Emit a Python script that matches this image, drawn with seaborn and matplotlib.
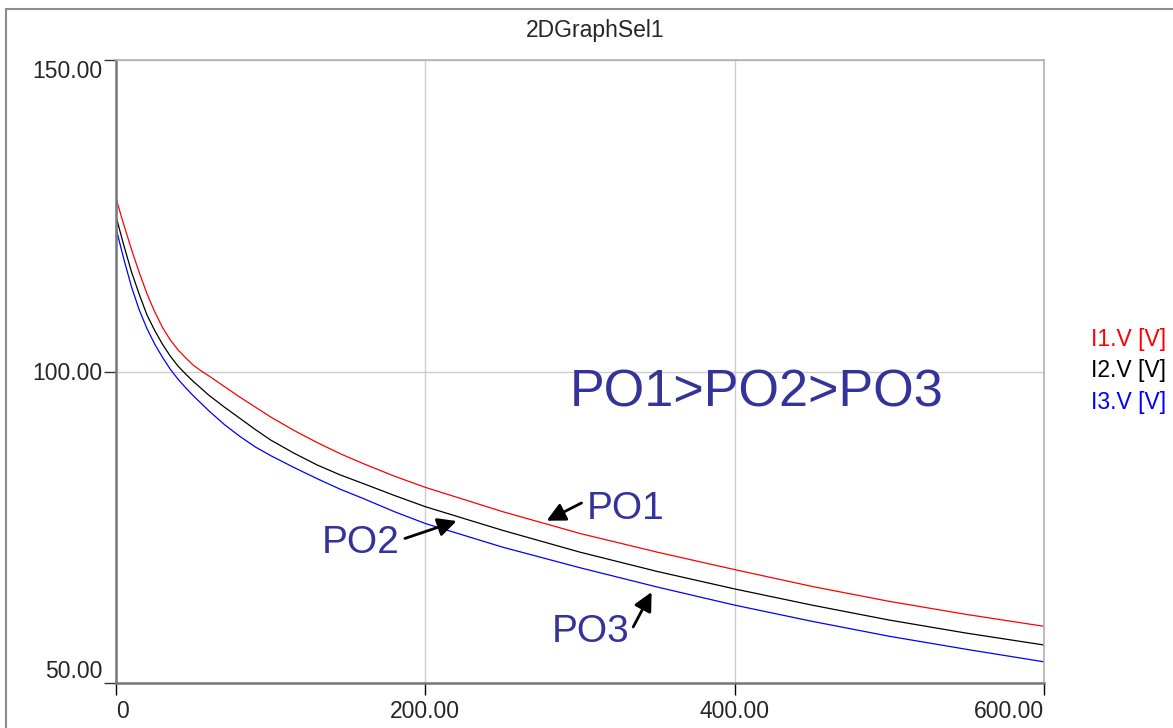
import matplotlib
matplotlib.use("Agg")
import matplotlib.pyplot as plt
import numpy as np
import pandas as pd
import seaborn as sns
from matplotlib.patches import Rectangle

# ---- data ----
x_vals = [0, 5, 10, 15, 20, 25, 30, 35, 40, 45, 50, 55, 60, 70, 80, 90, 100,
          115, 130, 145, 160, 180, 200, 250, 300, 350, 400, 450, 500, 550, 600]
i1_vals = [127.8, 123.6, 119.6, 115.9, 112.5, 109.6, 107.1, 105.1, 103.5, 102.2,
           101.0, 100.1, 99.3, 97.6, 95.9, 94.3, 92.7,
           90.55, 88.6, 86.8, 85.2, 83.2, 81.4, 77.5, 74.0, 71.0, 68.2, 65.5,
           63.1, 61.0, 59.1]
i2_vals = [124.9, 120.3, 116.0, 112.4, 109.1, 106.6, 104.4, 102.5, 100.9, 99.6,
           98.4, 97.3, 96.2, 94.3, 92.5, 90.7, 89.0,
           86.9, 85.0, 83.4, 82.0, 80.1, 78.3, 74.5, 71.0, 67.9, 65.1, 62.5,
           60.1, 58.0, 56.1]
i3_vals = [123.0, 118.1, 113.6, 109.9, 106.9, 104.4, 102.3, 100.4, 98.8, 97.4,
           96.1, 94.9, 93.7, 91.5, 89.6, 87.9, 86.5,
           84.6, 82.8, 81.1, 79.6, 77.5, 75.6, 71.8, 68.5, 65.4, 62.5, 59.9,
           57.5, 55.4, 53.4]
series_names = ["I1.V [V]", "I2.V [V]", "I3.V [V]"]
series_colors = ["#ff0000", "#000000", "#0000ff"]
x_ticks = [0, 200, 400, 600]
x_tick_labels = ["0", "200.00", "400.00", "600.00"]
y_ticks = [50, 100, 150]
y_tick_labels = ["50.00", "100.00", "150.00"]
title_text = "2DGraphSel1"
note_text = "PO1>PO2>PO3"

df = pd.concat([
    pd.DataFrame({"x": x_vals, "v": vals, "series": name})
    for name, vals in zip(series_names, [i1_vals, i2_vals, i3_vals])
], ignore_index=True)

sns.set_style("white")
plt.rcParams["font.family"] = ["Liberation Sans", "DejaVu Sans"]

W, H = 1173, 728
fig = plt.figure(figsize=(W / 100, H / 100), dpi=100)
ax = fig.add_axes([116 / W, 1 - 683 / H, (1044 - 116) / W, (683 - 60) / H])

sns.lineplot(data=df, x="x", y="v", hue="series", palette=series_colors,
             linewidth=0.9, ax=ax, sort=False)

ax.set_xlim(0, 600)
ax.set_ylim(50, 150)
ax.set_xlabel("")
ax.set_ylabel("")
ax.set_xticks(x_ticks, labels=x_tick_labels)
ax.set_yticks(y_ticks, labels=y_tick_labels)
ax.grid(True, color="#cccccc", linewidth=1)
ax.set_axisbelow(True)

for s in ["left", "bottom"]:
    ax.spines[s].set_color("#777777")
    ax.spines[s].set_linewidth(1.8)
for s in ["top", "right"]:
    ax.spines[s].set_color("#b0b0b0")
    ax.spines[s].set_linewidth(1.2)
    ax.spines[s].set_visible(True)

ax.tick_params(axis="y", which="major", left=True, length=8.6, width=1,
               color="#333333", pad=1, labelsize=16.5, direction="out")
ax.tick_params(axis="x", which="major", bottom=True, length=8.6, width=1,
               color="#000000", pad=4, labelsize=16.5, direction="out")

ylabs = ax.get_yticklabels()
ylabs[0].set_va("bottom")
ylabs[-1].set_va("top")
xlabs = ax.get_xticklabels()
xlabs[0].set_ha("left")
xlabs[-1].set_ha("right")

# legend outside on the right, coloured text only
handles, labels = ax.get_legend_handles_labels()
leg = ax.legend(handles, labels, loc="center right",
                bbox_to_anchor=(1166 / W, 1 - 371 / H),
                bbox_transform=fig.transFigure, frameon=False,
                handlelength=0, handletextpad=0, labelcolor="linecolor",
                fontsize=16.5, labelspacing=0.36, borderpad=0, borderaxespad=0)
for h in leg.legend_handles:
    h.set_visible(False)

# title
fig.text(595 / W, 1 - 30 / H, title_text, ha="center", va="center", fontsize=16.5)

# annotations
note_color = "#333399"
ax.text(293.5, 94.35, note_text, color=note_color, fontsize=37.5,
        ha="left", va="baseline")
ax.text(304.2, 76.4, "PO1", color=note_color, fontsize=28, ha="left", va="baseline")
ax.text(132.9, 70.8, "PO2", color=note_color, fontsize=28, ha="left", va="baseline")
ax.text(281.6, 56.6, "PO3", color=note_color, fontsize=28, ha="left", va="baseline")

arrow_kw = dict(arrowstyle="-|>", color="black", lw=2, mutation_scale=28,
                shrinkA=0, shrinkB=0)
ax.annotate("", xy=(278.4, 76.05), xytext=(301.0, 78.9), arrowprops=arrow_kw)
ax.annotate("", xy=(220.2, 76.0), xytext=(186.8, 73.2), arrowprops=arrow_kw)
ax.annotate("", xy=(346.3, 64.6), xytext=(334.4, 59.0), arrowprops=arrow_kw)

# outer grey frame (extends beyond right/bottom edges)
frame = Rectangle((6 / W, -0.5), 2.0, 1 - 9 / H + 0.5, transform=fig.transFigure,
                  fill=False, edgecolor="#8c8c8c", linewidth=1.5, clip_on=False)
fig.add_artist(frame)

fig.savefig("out.png", dpi=100)
